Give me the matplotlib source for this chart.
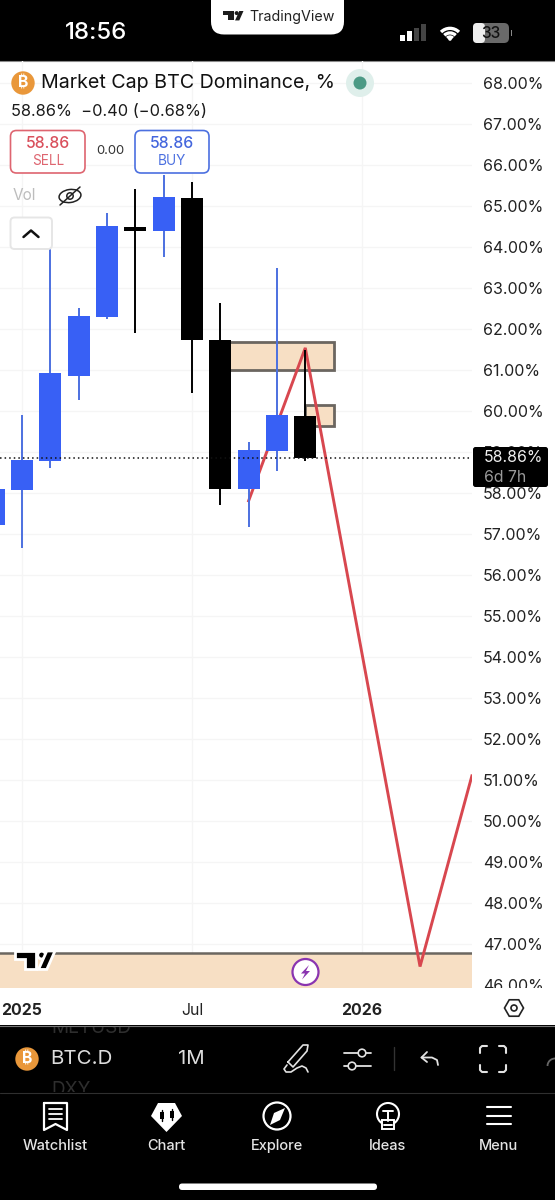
import numpy as np
import matplotlib
matplotlib.use("Agg")
import matplotlib.pyplot as plt
from matplotlib.patches import Rectangle, FancyBboxPatch, Circle, Polygon, Arc, Ellipse
from matplotlib.transforms import Bbox

plt.rcParams['font.family'] = ['Inter', 'Roboto', 'Noto Sans', 'DejaVu Sans']

# ---------- data ----------
months = [-1, 0, 1, 2, 3, 4, 5, 6, 7, 8, 9, 10]
opens  = [57.22, 58.07, 58.79, 60.86, 62.30, 64.49, 64.39, 65.20, 61.73, 58.10, 59.03, 59.89]
closes = [58.10, 58.80, 60.92, 62.32, 64.51, 64.39, 65.21, 61.73, 58.10, 59.04, 59.90, 58.86]
highs  = [58.30, 59.90, 63.98, 62.51, 64.83, 65.41, 65.76, 65.59, 62.63, 59.24, 63.48, 61.49]
lows   = [56.90, 56.66, 58.62, 60.27, 62.25, 61.91, 63.76, 60.45, 57.71, 57.18, 58.54, 58.79]

path_x = [8, 10, 14.05, 15.88]
path_y = [57.81, 61.54, 46.45, 51.10]

zone_a = (7, 11, 61.00, 61.68)
zone_b = (10, 11, 59.64, 60.15)
zone_floor = 46.78
last_price = 58.86

price_ticks = list(range(46, 69))
price_labels = [f"{v}.00%" for v in price_ticks]
time_ticks = [0, 6, 12]
time_labels = ["2025", "Jul", "2026"]

BLUE = "#3860F5"
BLUEW = "#4C70E0"
PEACH = "#F7DFC4"
EDGE = "#6B6660"
RED = "#D8474F"

# ---------- figure ----------
W, H = 555, 1200
fig = plt.figure(figsize=(W/100, H/100), dpi=100, facecolor="black")

def px_axes(l, t, r, b):
    return [l/W, 1-b/H, (r-l)/W, (b-t)/H]

bg = fig.add_axes([0, 0, 1, 1], zorder=0)
bg.set_xlim(0, W); bg.set_ylim(H, 0); bg.axis("off")
bg.add_patch(Rectangle((0, 61), W, 964, fc="white", ec="none"))
bg.plot([0, W], [61, 61], color="#8a8a8a", lw=0.8)
bg.plot([0, W], [1025.5, 1025.5], color="#777777", lw=0.8)

ax = fig.add_axes(px_axes(0, 61, 472, 988), zorder=1)
ax.patch.set_alpha(0)
ax.set_xlim(-22/28.33, 450/28.33)
ax.set_ylim(68-(988-83)/41, 68+(83-61)/41)
for s in ax.spines.values():
    s.set_visible(False)
ax.yaxis.tick_right()
ax.set_yticks(price_ticks, price_labels)
ax.set_xticks(time_ticks, time_labels)
ax.tick_params(axis="y", length=0, pad=8, labelsize=11.5, labelcolor="#222222")
ax.tick_params(axis="x", length=0, pad=11, labelsize=11.4, labelcolor="#222222")
ax.grid(True, color="#F5F5F5", lw=1)
ax.set_axisbelow(True)
clip = Bbox([[0, H-988], [W, H]])
for lab in ax.get_yticklabels():
    lab.set_clip_box(clip); lab.set_clip_on(True)
for lab, t in zip(ax.get_xticklabels(), time_labels):
    lab.set_fontweight("normal" if t == "Jul" else "bold")

# zones
ax.add_patch(Rectangle((zone_a[0], zone_a[2]), zone_a[1]-zone_a[0], zone_a[3]-zone_a[2],
                       fc=PEACH, ec=EDGE, lw=2.0, zorder=2))
ax.add_patch(Rectangle((zone_b[0], zone_b[2]), zone_b[1]-zone_b[0], zone_b[3]-zone_b[2],
                       fc=PEACH, ec=EDGE, lw=2.0, zorder=2))
ax.axhspan(ax.get_ylim()[0], zone_floor, fc=PEACH, ec="none", zorder=2)
ax.axhline(zone_floor, color=EDGE, lw=1.8, zorder=2.1)

# projected path
ax.plot(path_x, path_y, color=RED, lw=2.1, zorder=3, solid_joinstyle="miter")

# candles
for m, o, c, h, l in zip(months, opens, closes, highs, lows):
    black = c < o
    col = "black" if black else BLUE
    wick = "black" if black else BLUEW
    ax.vlines(m, l, h, color=wick, lw=1.4, zorder=4)
    bot, top = min(o, c), max(o, c)
    ax.bar(m, top-bot, width=0.77, bottom=bot, color=col, zorder=5)

ax.axhline(last_price, color="#111111", lw=1.1, ls=(0, (1, 2)), zorder=6)

# ---------- chrome ----------
ov = fig.add_axes([0, 0, 1, 1], zorder=3)
ov.set_xlim(0, W); ov.set_ylim(H, 0); ov.axis("off"); ov.patch.set_alpha(0)

def T(x, y, s, px, color="#111111", ha="left", weight="normal", **kw):
    return ov.text(x, y, s, fontsize=px*0.72, color=color, ha=ha, va="center", fontweight=weight, **kw)

def RR(x0, y0, x1, y1, r, fc="none", ec="none", lw=1.0, z=2):
    p = FancyBboxPatch((x0+r, y0+r), x1-x0-2*r, y1-y0-2*r,
                       boxstyle=f"round,pad={r},rounding_size={r}", fc=fc, ec=ec, lw=lw, zorder=z)
    ov.add_patch(p)
    return p

def L(xs, ys, c="white", lw=1.4, z=3):
    ov.plot(xs, ys, color=c, lw=lw, zorder=z, solid_capstyle="round", solid_joinstyle="round")

def tv_logo(x, y, s, color, ec="none", lw=0, z=4):
    ov.add_patch(Polygon([(x, y), (x+10*s, y), (x+10*s, y+9*s), (x+5*s, y+9*s), (x+5*s, y+4*s), (x, y+4*s)],
                         fc=color, ec=ec, lw=lw, zorder=z))
    ov.add_patch(Circle((x+13*s, y+2*s), 1.9*s, fc=color, ec=ec, lw=lw, zorder=z))
    ov.add_patch(Polygon([(x+15.5*s, y), (x+19.5*s, y), (x+15.5*s, y+9*s), (x+11.5*s, y+9*s)],
                         fc=color, ec=ec, lw=lw, zorder=z))

def coin(x, y, r=11.7):
    ov.add_patch(Circle((x, y), r, fc="#E9973A", ec="none", zorder=3))
    T(x, y, "₿", r*1.35, color="white", ha="center", weight="bold", zorder=4)

# status bar
T(96, 33, "18:56", 24, color="white", ha="center", weight="medium")
RR(211, -20, 344, 34.5, 13, fc="white")
tv_logo(223, 11, 1.05, "#1c1c1c")
T(249, 16.5, "TradingView", 14.3, color="#222222")
for x, h, c in zip([400, 407, 414, 421], [6, 10, 13, 17], ["white", "white", "#444444", "#444444"]):
    ov.add_patch(Rectangle((x, 41-h), 5, h, fc=c, ec="none"))
for r in [22, 14, 7]:
    ov.add_patch(Arc((450, 41), r*1.15, r*1.15, theta1=225, theta2=315, color="white", lw=2.4))
ov.add_patch(Circle((450, 39), 1.8, fc="white"))
RR(473, 23, 509, 43, 5, fc="#6a6a6a")
RR(473, 23, 485, 43, 4, fc="#eeeeee")
T(491, 33, "33", 15.5, color="#111111", ha="center", weight="medium")
ov.add_patch(Rectangle((510.5, 30), 1.5, 6, fc="#888888"))

# legend header
coin(23, 83)
T(41, 83, "Market Cap BTC Dominance, %", 19.7, color="#111111")
ov.add_patch(Circle((360, 83), 14, fc="#DFEFEB"))
ov.add_patch(Circle((360, 83), 6.5, fc="#4C9A85"))
T(11, 112, "58.86%  −0.40 (−0.68%)", 16.4, color="#1a1a1a")

RR(10.5, 130.5, 85, 173, 6, fc="white", ec="#DE6570", lw=1.2)
T(47.8, 143, "58.86", 15.8, color="#D9505C", ha="center", weight="medium")
T(47.8, 161, "SELL", 13.6, color="#DE6570", ha="center")
T(110, 151, "0.00", 13, color="#333333", ha="center")
RR(135, 130.5, 209, 173, 6, fc="white", ec="#4C70E0", lw=1.2)
T(172, 143, "58.86", 15.8, color="#4466DD", ha="center", weight="medium")
T(172, 161, "BUY", 13.6, color="#4C70E0", ha="center")

T(13, 196, "Vol", 15.4, color="#BDBDBD")
ov.add_patch(Ellipse((70, 196), 22, 13, angle=-8, fc="white", ec="#222222", lw=1.1, zorder=3))
ov.add_patch(Circle((70, 196), 3.2, fc="white", ec="#222222", lw=1.1, zorder=4))
L([60, 80], [205, 187], c="#222222", lw=1.1, z=5)

RR(10.5, 217.5, 52, 249, 4, fc="white", ec="#E6E6E6", lw=1.4)
L([23.5, 31, 38.5], [237, 230.5, 237], c="#111111", lw=1.8)

# last-price tag
RR(473, 447, 548, 487, 2.5, fc="black", z=5)
T(484, 458, "58.86%", 15.8, color="#F0F0F0", zorder=6)
T(484, 477, "6d 7h", 15.8, color="#9a9a9a", zorder=6)

# logo and bolt on the floor zone
tv_logo(15, 951, 2.05, "black", ec="white", lw=2)
ov.add_patch(Circle((305.5, 972), 13, fc="white", ec="#8A35B0", lw=1.6, zorder=4))
ov.add_patch(Polygon([(309, 965), (301, 973.5), (305, 973.5), (302, 979.5), (310, 971), (306, 971)],
                     fc="#8A35B0", ec="none", zorder=5))

# settings hexagon
a = np.deg2rad(np.arange(0, 360, 60))
ov.add_patch(Polygon(np.c_[514+9.5*np.cos(a), 1008+9.5*np.sin(a)], closed=True, fc="white", ec="#222222", lw=1.2))
ov.add_patch(Circle((514, 1008), 3, fc="white", ec="#222222", lw=1.2, zorder=4))

# toolbar
ghost_clip = Bbox([[0, H-1092], [W, H-1026.5]])
g1 = T(51, 1028, "MLTUSD", 19, color="#2e2e2e")
g1.set_clip_box(ghost_clip); g1.set_clip_on(True)
g2 = T(51, 1090, "DXY", 19, color="#2e2e2e")
g2.set_clip_box(ghost_clip); g2.set_clip_on(True)
coin(27, 1059)
T(50, 1059, "BTC.D", 20.5, color="#DDDDDD")
T(191, 1059, "1M", 20.5, color="#DDDDDD", ha="center")
ICON = "#E2E2E2"
L([288, 303, 308, 307, 293, 288], [1062, 1045, 1045, 1051, 1067, 1062], c=ICON, lw=1.2)
L([287, 284, 286, 291, 297, 302, 306, 308], [1065, 1069, 1072, 1072, 1068, 1066, 1068, 1072], c=ICON, lw=1.2)
for y, cx in [(1053, 362), (1066, 352)]:
    L([344, 371], [y, y], c=ICON, lw=1.3)
    ov.add_patch(Circle((cx, y), 3.8, fc="black", ec=ICON, lw=1.2, zorder=4))
L([394, 394], [1047, 1070], c="#333333", lw=1)
L([427, 421.5, 427], [1052, 1057.5, 1062], c=ICON, lw=1.3)
L([421.5, 432, 437, 438], [1057.5, 1057.5, 1060, 1065], c=ICON, lw=1.3)
cx, cy = 493, 1059
for sx, sy in [(-1, -1), (1, -1), (-1, 1), (1, 1)]:
    L([cx+sx*13, cx+sx*13, cx+sx*11, cx+sx*6], [cy+sy*6, cy+sy*11, cy+sy*13, cy+sy*13], c=ICON, lw=1.5)
ov.add_patch(Arc((555, 1066), 15, 15, theta1=180, theta2=280, color="#666666", lw=1.3))
L([0, W], [1092.5, 1092.5], c="#2f2f2f", lw=0.8)

# tab bar
tabs = [(55, "Watchlist"), (166, "Chart"), (277, "Explore"), (388, "Ideas"), (499, "Menu")]
for x, s in tabs:
    T(x, 1146, s, 14.6, color="#E4E4E4", ha="center", weight="medium")
L([44, 67, 67, 55.5, 44, 44], [1103, 1103, 1130, 1124, 1130, 1103], lw=1.6)
for y in [1109, 1114, 1119]:
    L([49, 62], [y, y], lw=1.3)
ov.add_patch(Polygon([(158, 1103), (175, 1103), (182, 1116), (166.5, 1132), (151, 1116)], fc="white", ec="none"))
for x, y0, y1 in [(162, 1110, 1121), (172, 1109, 1120)]:
    ov.add_patch(Rectangle((x-1.8, y0+2), 3.6, y1-y0-4, fc="black"))
    L([x, x], [y0, y1], c="black", lw=1)
ov.add_patch(Circle((277, 1116), 13.5, fc="black", ec="white", lw=1.6))
ov.add_patch(Polygon([(285, 1108), (280, 1120), (270, 1125), (274, 1113)], fc="white", ec="none", zorder=4))
ov.add_patch(Circle((388, 1114), 11, fc="black", ec="white", lw=1.5))
ov.add_patch(Rectangle((382, 1120), 12, 9, fc="black", ec="white", lw=1.4, zorder=4))
L([383, 393], [1111, 1111], lw=1.4, z=5)
L([388, 388], [1111, 1121], lw=1.4, z=5)
L([384, 392], [1125, 1125], lw=1.4, z=5)
for y in [1107, 1116, 1124]:
    L([487, 511], [y, y], lw=1.5)
RR(179, 1183.5, 377, 1190, 3.2, fc="white")

fig.savefig("out.png", dpi=100, facecolor="black")
